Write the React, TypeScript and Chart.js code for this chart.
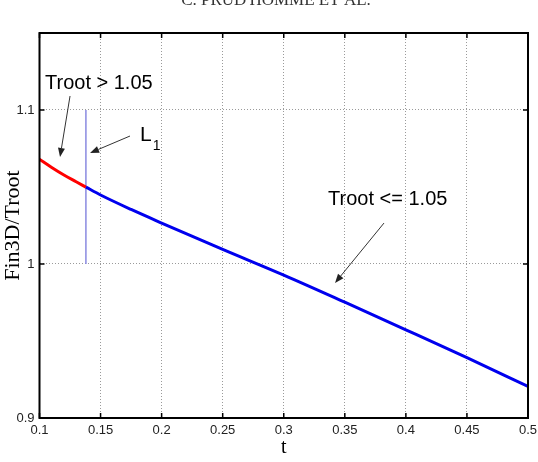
import React, { useEffect, useRef } from 'react';
import { Chart, registerables } from 'chart.js';

Chart.register(...registerables);

// ---- data ----
const T_RED = [0.1, 0.11, 0.12, 0.13, 0.138];
const V_RED = [1.068, 1.0627, 1.0578, 1.0534, 1.0499];
const T_BLUE = [0.138, 0.15, 0.175, 0.2, 0.25, 0.3, 0.35, 0.4, 0.45, 0.5];
const V_BLUE = [1.0499, 1.0448, 1.0354, 1.0266, 1.0095, 0.9928, 0.9752, 0.9573, 0.9392, 0.9205];
const L1_T = 0.138;
const L1_V = [1.0, 1.1];
const X_TICKS = [0.1, 0.15, 0.2, 0.25, 0.3, 0.35, 0.4, 0.45, 0.5];
const Y_TICKS = [0.9, 1, 1.1];
const X_LABEL = 't';
const Y_LABEL = 'Fin3D/Troot';
const HEADER = "C. PRUD'HOMME ET AL.";

// annotations in data coordinates
const TEXT_NOTES = [
  { text: 'Troot > 1.05', t: 0.1045, v: 1.1169 },
  { text: 'Troot <= 1.05', t: 0.3363, v: 1.0416 },
];
const L1_NOTE = { main: 'L', sub: '1', t: 0.1823, v: 1.0835 };
const ARROWS = [
  { t0: 0.125, v0: 1.1091, t1: 0.1168, v1: 1.0695 },
  { t0: 0.1741, v0: 1.0831, t1: 0.1414, v1: 1.0721 },
  { t0: 0.3821, v0: 1.0266, t1: 0.342, v1: 0.9877 },
];

const SANS = '"Liberation Sans", Arial, sans-serif';
const SERIF = '"Liberation Serif", "Times New Roman", serif';

const decorPlugin = {
  id: 'decor',
  afterDraw(chart: any) {
    const { ctx, chartArea: a, scales } = chart;
    const xs = scales.x;
    const ys = scales.y;
    ctx.save();

    // inward tick marks (MATLAB style)
    ctx.strokeStyle = '#000';
    ctx.lineWidth = 1.5;
    ctx.beginPath();
    X_TICKS.forEach((t) => {
      const px = xs.getPixelForValue(t);
      ctx.moveTo(px, a.bottom);
      ctx.lineTo(px, a.bottom - 5);
      ctx.moveTo(px, a.top);
      ctx.lineTo(px, a.top + 5);
    });
    Y_TICKS.forEach((v) => {
      const py = ys.getPixelForValue(v);
      ctx.moveTo(a.left, py);
      ctx.lineTo(a.left + 5, py);
      ctx.moveTo(a.right, py);
      ctx.lineTo(a.right - 5, py);
    });
    ctx.stroke();

    // box
    ctx.lineWidth = 2;
    ctx.strokeRect(a.left, a.top, a.right - a.left, a.bottom - a.top);

    // arrows
    ctx.strokeStyle = '#333';
    ctx.fillStyle = '#222';
    ctx.lineWidth = 1;
    ARROWS.forEach((ar) => {
      const x0 = xs.getPixelForValue(ar.t0);
      const y0 = ys.getPixelForValue(ar.v0);
      const x1 = xs.getPixelForValue(ar.t1);
      const y1 = ys.getPixelForValue(ar.v1);
      const ang = Math.atan2(y1 - y0, x1 - x0);
      const hl = 9;
      const hw = 3.5;
      const bx = x1 - hl * Math.cos(ang);
      const by = y1 - hl * Math.sin(ang);
      ctx.beginPath();
      ctx.moveTo(x0, y0);
      ctx.lineTo(bx, by);
      ctx.stroke();
      ctx.beginPath();
      ctx.moveTo(x1, y1);
      ctx.lineTo(bx + hw * Math.sin(ang), by - hw * Math.cos(ang));
      ctx.lineTo(bx - hw * Math.sin(ang), by + hw * Math.cos(ang));
      ctx.closePath();
      ctx.fill();
    });

    // text notes
    ctx.fillStyle = '#000';
    ctx.textAlign = 'left';
    ctx.textBaseline = 'middle';
    ctx.font = `20px ${SANS}`;
    TEXT_NOTES.forEach((n) => {
      ctx.fillText(n.text, xs.getPixelForValue(n.t), ys.getPixelForValue(n.v));
    });

    // L1
    const lx = xs.getPixelForValue(L1_NOTE.t);
    const ly = ys.getPixelForValue(L1_NOTE.v);
    ctx.font = `21px ${SANS}`;
    ctx.fillText(L1_NOTE.main, lx, ly);
    const lw = ctx.measureText(L1_NOTE.main).width;
    ctx.font = `14px ${SANS}`;
    ctx.fillText(L1_NOTE.sub, lx + lw + 1, ly + 11);

    // page header (cut off at top)
    ctx.fillStyle = '#333';
    ctx.textAlign = 'center';
    ctx.textBaseline = 'alphabetic';
    ctx.font = `17px ${SERIF}`;
    ctx.fillText(HEADER, 276, 5);

    ctx.restore();
  },
};

export default function App() {
  const ref = useRef<HTMLCanvasElement | null>(null);

  useEffect(() => {
    if (!ref.current) return;
    const chart = new Chart(ref.current, {
      type: 'line',
      data: {
        datasets: [
          {
            data: T_BLUE.map((t, i) => ({ x: t, y: V_BLUE[i] })),
            borderColor: '#0000ee',
            borderWidth: 3,
            pointRadius: 0,
            cubicInterpolationMode: 'monotone',
            fill: false,
          },
          {
            data: T_RED.map((t, i) => ({ x: t, y: V_RED[i] })),
            borderColor: '#ff0000',
            borderWidth: 3,
            pointRadius: 0,
            cubicInterpolationMode: 'monotone',
            fill: false,
          },
          {
            data: L1_V.map((v) => ({ x: L1_T, y: v })),
            borderColor: '#8a8ae0',
            borderWidth: 1.5,
            pointRadius: 0,
            fill: false,
          },
        ],
      },
      options: {
        responsive: false,
        animation: false,
        devicePixelRatio: 1,
        layout: { padding: { top: 33, right: 10, left: 0, bottom: 0 } },
        plugins: {
          legend: { display: false },
          tooltip: { enabled: false },
          title: { display: false },
        },
        scales: {
          x: {
            type: 'linear',
            min: 0.1,
            max: 0.5,
            afterBuildTicks: (s: any) => {
              s.ticks = X_TICKS.map((v) => ({ value: v }));
            },
            afterFit: (s: any) => {
              s.height = 44;
              s.paddingRight = 0;
              s.paddingLeft = 0;
            },
            ticks: {
              autoSkip: false,
              maxRotation: 0,
              minRotation: 0,
              padding: 5,
              color: '#222',
              font: { family: SANS, size: 13 },
              callback: (v: any) => String(+Number(v).toFixed(2)),
            },
            grid: { color: '#9a9a9a', lineWidth: 1, drawTicks: false },
            border: { display: false, dash: [1, 2] },
            title: {
              display: true,
              text: X_LABEL,
              color: '#000',
              font: { family: SERIF, size: 20 },
              padding: { top: 0, bottom: 2 },
            },
          },
          y: {
            type: 'linear',
            min: 0.9,
            max: 1.15,
            afterBuildTicks: (s: any) => {
              s.ticks = Y_TICKS.map((v) => ({ value: v }));
            },
            afterFit: (s: any) => {
              s.width = 39.5;
              s.paddingTop = 0;
              s.paddingBottom = 0;
            },
            ticks: {
              padding: 5,
              color: '#222',
              font: { family: SANS, size: 13 },
              callback: (v: any) => String(+Number(v).toFixed(2)),
            },
            grid: { color: '#9a9a9a', lineWidth: 1, drawTicks: false },
            border: { display: false, dash: [1, 2] },
            title: {
              display: true,
              text: Y_LABEL,
              color: '#000',
              font: { family: SERIF, size: 22 },
              padding: { top: 0, bottom: 0 },
            },
          },
        },
      },
      plugins: [decorPlugin],
    } as any);
    return () => chart.destroy();
  }, []);

  return (
    <div style={{ position: 'absolute', left: 0, top: 0, width: 538, height: 462, background: '#fff' }}>
      <canvas ref={ref} width={538} height={462} style={{ display: 'block' }} />
    </div>
  );
}
